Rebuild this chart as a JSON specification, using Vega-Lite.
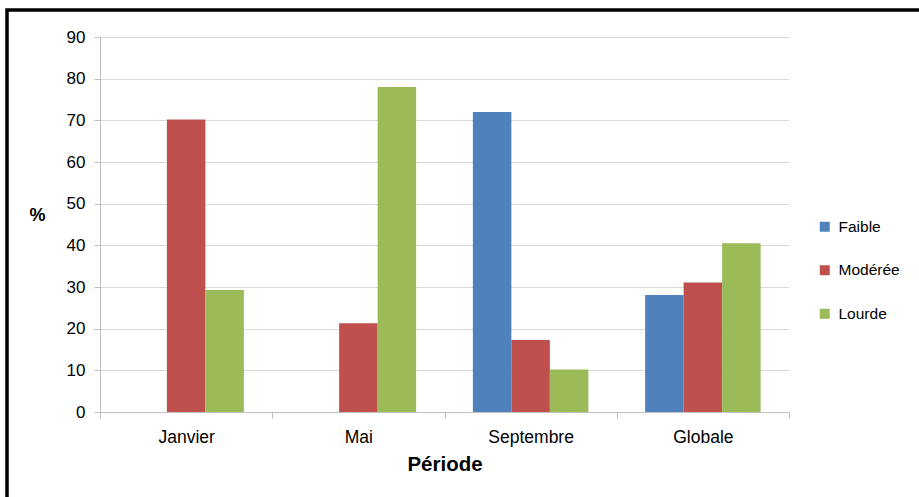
{
  "$schema": "https://vega.github.io/schema/vega-lite/v6.json",
  "width": 930,
  "height": 500,
  "autosize": {"type": "none"},
  "padding": {"left": 7, "top": 10, "right": 0, "bottom": 0},
  "background": "white",
  "config": {
    "view": {"stroke": "black", "strokeWidth": 3.5},
    "font": "Liberation Sans"
  },
  "data": {
    "values": [
      {"periode": "Janvier", "charge": "Faible", "pct": 0},
      {"periode": "Janvier", "charge": "Modérée", "pct": 70.2},
      {"periode": "Janvier", "charge": "Lourde", "pct": 29.3},
      {"periode": "Mai", "charge": "Faible", "pct": 0},
      {"periode": "Mai", "charge": "Modérée", "pct": 21.3},
      {"periode": "Mai", "charge": "Lourde", "pct": 78.0},
      {"periode": "Septembre", "charge": "Faible", "pct": 72.0},
      {"periode": "Septembre", "charge": "Modérée", "pct": 17.3},
      {"periode": "Septembre", "charge": "Lourde", "pct": 10.2},
      {"periode": "Globale", "charge": "Faible", "pct": 28.1},
      {"periode": "Globale", "charge": "Modérée", "pct": 31.1},
      {"periode": "Globale", "charge": "Lourde", "pct": 40.5}
    ]
  },
  "mark": {"type": "bar"},
  "encoding": {
    "x": {
      "field": "periode",
      "type": "nominal",
      "sort": ["Janvier", "Mai", "Septembre", "Globale"],
      "scale": {"range": [93, 782], "paddingInner": 0, "paddingOuter": 0},
      "axis": {
        "title": "Période",
        "titleFont": "Liberation Sans",
        "titleFontSize": 20.5,
        "titleFontWeight": "bold",
        "titleColor": "black",
        "titlePadding": 9,
        "offset": -98,
        "labelAngle": 0,
        "labelFontSize": 17.5,
        "labelColor": "black",
        "labelPadding": 10,
        "tickBand": "extent",
        "tickSize": 6,
        "tickColor": "#bfbfbf",
        "domainColor": "#bfbfbf",
        "grid": false
      }
    },
    "xOffset": {
      "field": "charge",
      "type": "nominal",
      "sort": ["Faible", "Modérée", "Lourde"],
      "scale": {"paddingInner": 0, "paddingOuter": 0.737}
    },
    "y": {
      "field": "pct",
      "type": "quantitative",
      "scale": {"domain": [0, 90], "range": [402, 27], "nice": false},
      "axis": {
        "title": "%",
        "titleAngle": 0,
        "titleX": -63,
        "titleY": 205,
        "titleAlign": "center",
        "titleBaseline": "middle",
        "titleFontSize": 18,
        "titleFontWeight": "bold",
        "titleColor": "black",
        "offset": -93,
        "values": [0, 10, 20, 30, 40, 50, 60, 70, 80, 90],
        "labelFontSize": 17,
        "labelColor": "black",
        "labelPadding": 9,
        "tickSize": 6,
        "tickColor": "#bfbfbf",
        "domainColor": "#bfbfbf",
        "gridColor": "#d9d9d9"
      }
    },
    "color": {
      "field": "charge",
      "type": "nominal",
      "sort": ["Faible", "Modérée", "Lourde"],
      "scale": {"domain": ["Faible", "Modérée", "Lourde"], "range": ["#4F81BD", "#C0504D", "#9BBB59"]},
      "legend": {
        "title": null,
        "orient": "none",
        "legendX": 810,
        "legendY": 209,
        "padding": 0,
        "symbolType": "square",
        "symbolSize": 100,
        "symbolStrokeWidth": 0,
        "labelFontSize": 15.5,
        "labelColor": "black",
        "labelOffset": 6,
        "rowPadding": 26.5
      }
    }
  }
}
